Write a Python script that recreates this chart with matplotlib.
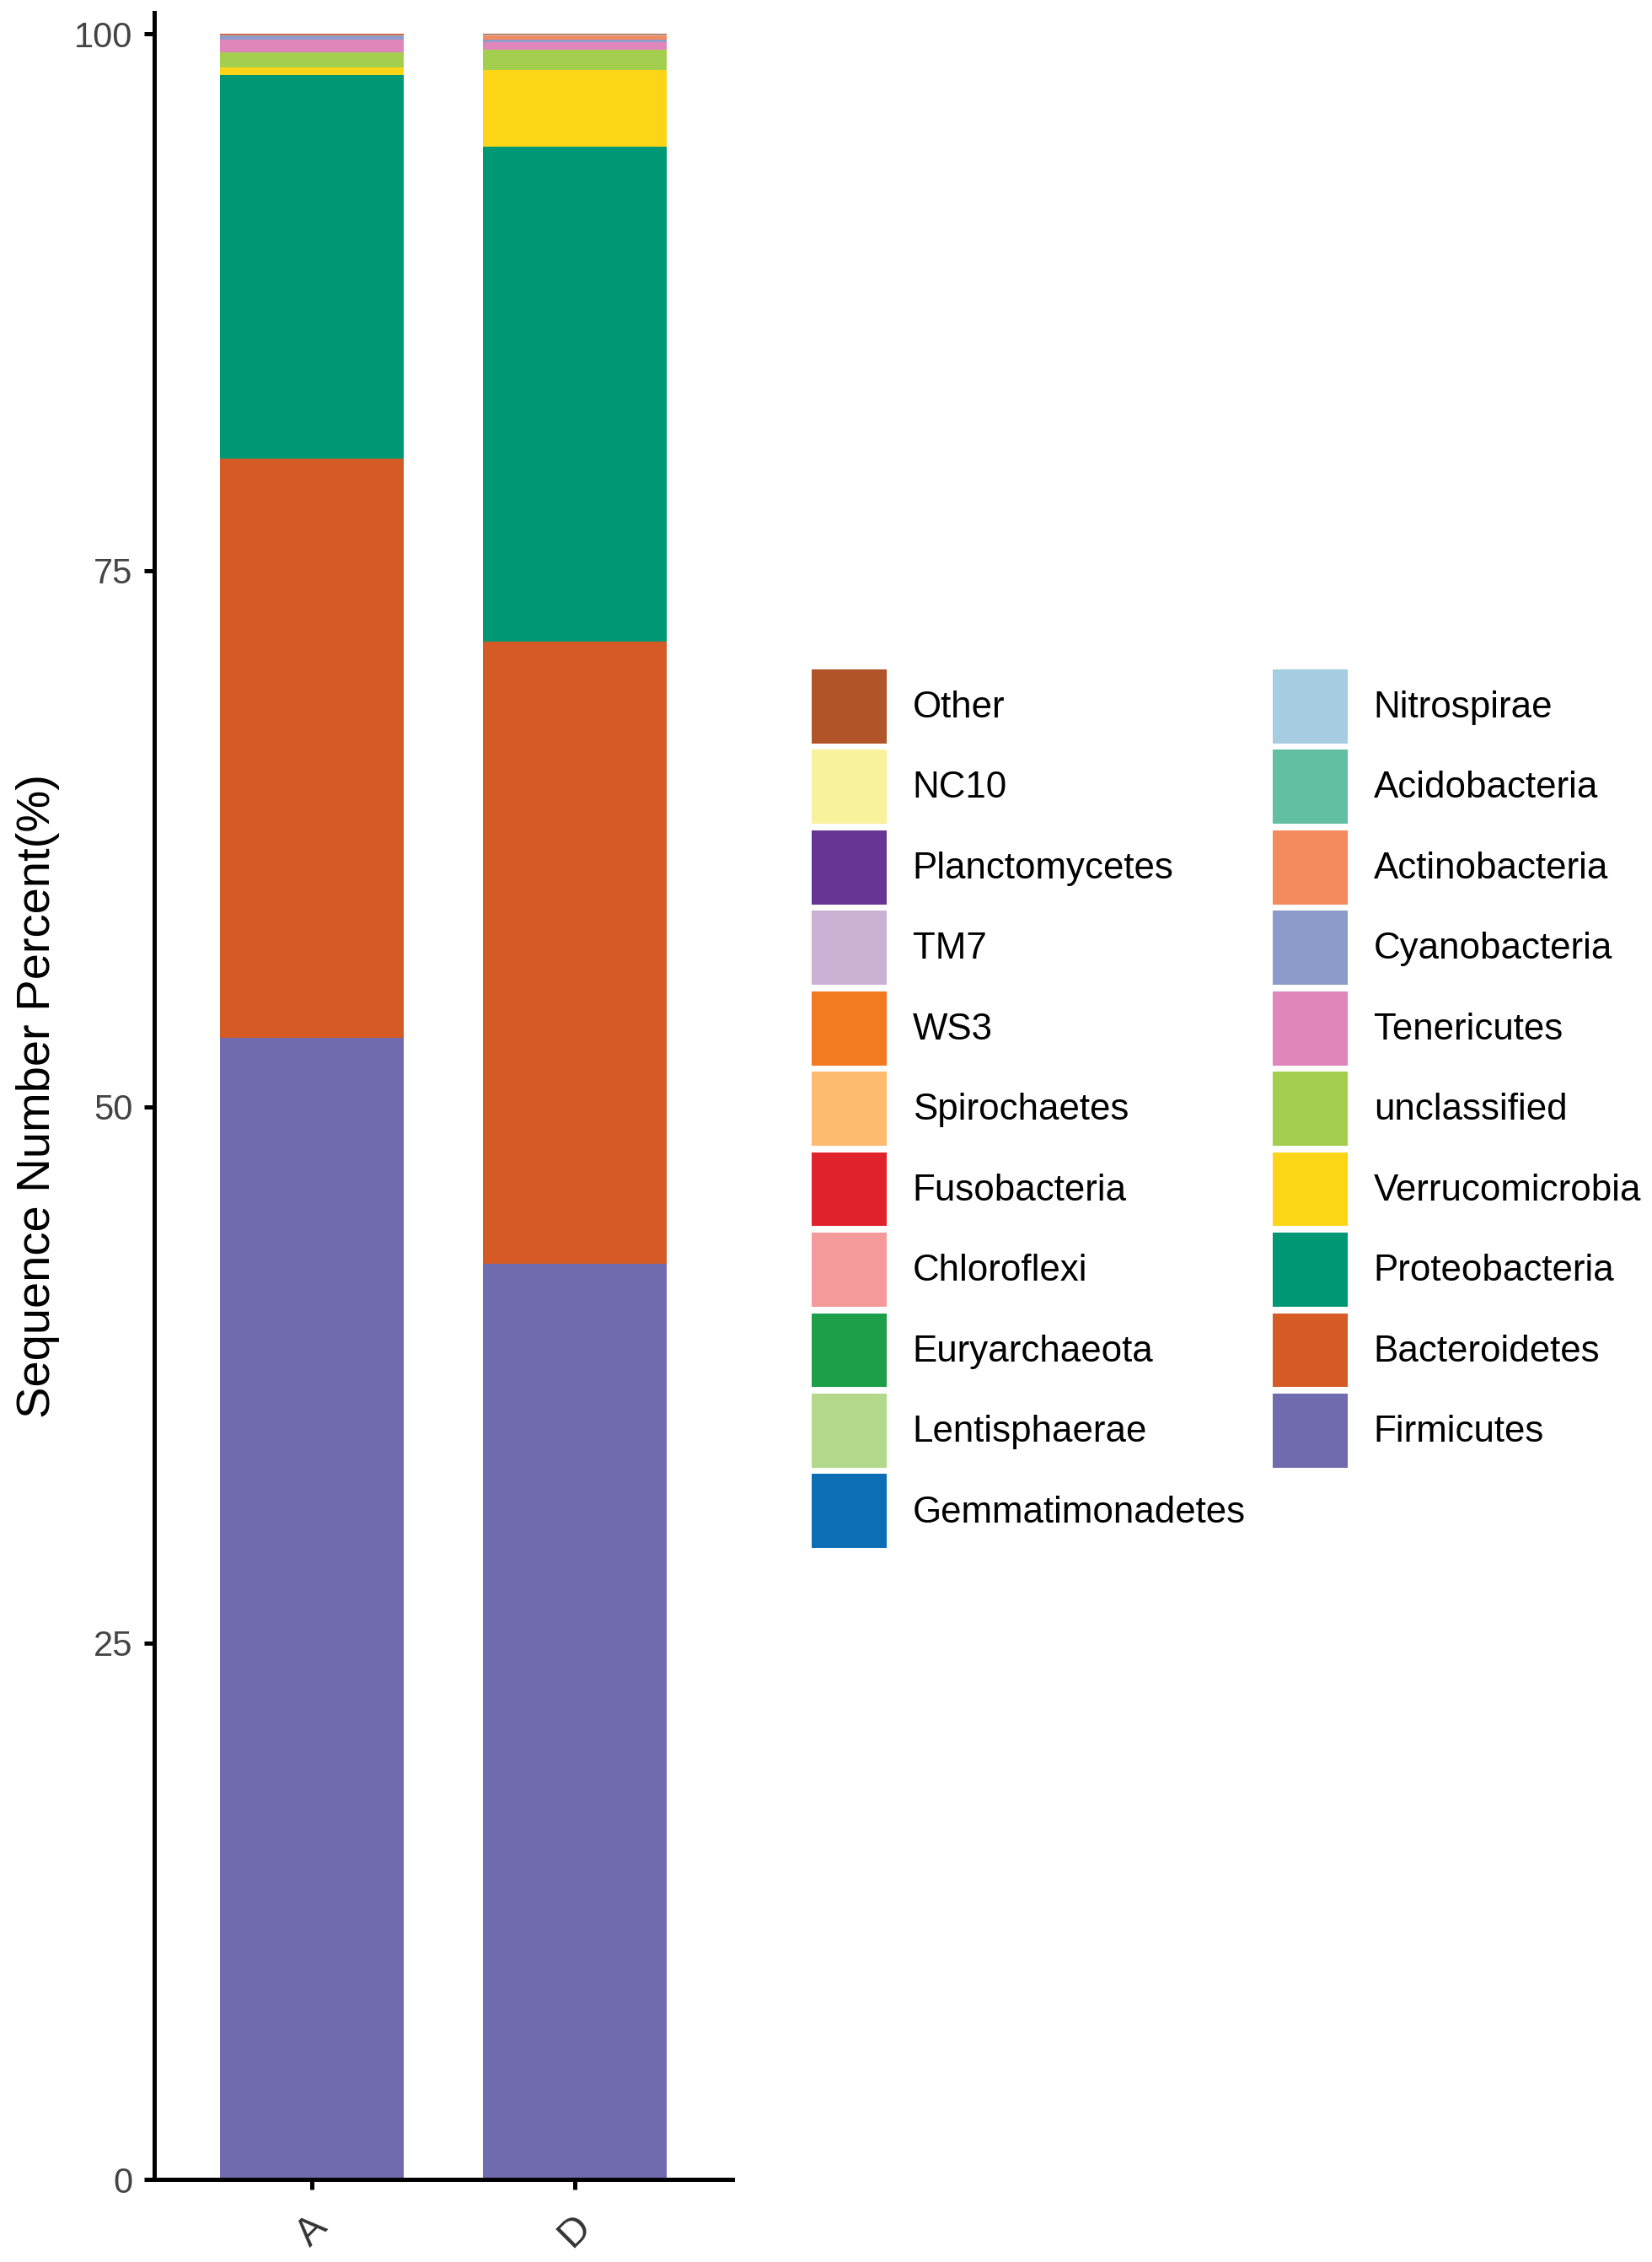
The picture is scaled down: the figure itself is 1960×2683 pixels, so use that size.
import numpy as np
import matplotlib

matplotlib.use("Agg")
import matplotlib.pyplot as plt
from matplotlib.patches import Patch

plt.rcParams["font.family"] = ["Liberation Sans", "DejaVu Sans"]

samples = ["A", "D"]

# stacking order, bottom -> top
phyla = [
    "Firmicutes", "Bacteroidetes", "Proteobacteria", "Verrucomicrobia",
    "unclassified", "Tenericutes", "Cyanobacteria", "Actinobacteria",
    "Acidobacteria", "Nitrospirae", "Gemmatimonadetes", "Lentisphaerae",
    "Euryarchaeota", "Chloroflexi", "Fusobacteria", "Spirochaetes",
    "WS3", "TM7", "Planctomycetes", "NC10", "Other",
]

pct_A = [53.2, 27.0, 17.9, 0.33, 0.74, 0.56, 0.20, 0.03, 0.01, 0.0, 0.0,
         0.01, 0.01, 0.0, 0.0, 0.0, 0.0, 0.0, 0.0, 0.0, 0.01]
pct_D = [42.7, 29.0, 23.05, 3.57, 0.96, 0.35, 0.13, 0.17, 0.02, 0.01, 0.01,
         0.01, 0.01, 0.0, 0.0, 0.0, 0.0, 0.0, 0.0, 0.0, 0.01]

colors = {
    "Firmicutes": "#706BAE",
    "Bacteroidetes": "#D55A26",
    "Proteobacteria": "#009874",
    "Verrucomicrobia": "#FCD616",
    "unclassified": "#A4CF4E",
    "Tenericutes": "#E086BB",
    "Cyanobacteria": "#8C9BCA",
    "Actinobacteria": "#F58A5E",
    "Acidobacteria": "#63BFA3",
    "Nitrospirae": "#A7CDE2",
    "Gemmatimonadetes": "#0C6FB5",
    "Lentisphaerae": "#B3D98C",
    "Euryarchaeota": "#1D9E48",
    "Chloroflexi": "#F49A9A",
    "Fusobacteria": "#E0232A",
    "Spirochaetes": "#FCBB6D",
    "WS3": "#F37A22",
    "TM7": "#C9B1D4",
    "Planctomycetes": "#663594",
    "NC10": "#F8F29C",
    "Other": "#B15428",
}

fig = plt.figure(figsize=(9.8, 13.415), dpi=200)
ax = fig.add_axes([0.0934, 0.0365, 0.35, 0.9579])

x = np.arange(1, len(samples) + 1)
bottom = np.zeros(len(samples))
for name, a, d in zip(phyla, pct_A, pct_D):
    vals = np.array([a, d])
    ax.bar(x, vals, width=0.7, bottom=bottom, color=colors[name], linewidth=0)
    bottom += vals

ax.set_xlim(0.4, 2.6)
ax.set_ylim(0, 101)
ax.set_xticks(x)
ax.set_xticklabels(samples, rotation=45, ha="center", va="top")
ax.set_yticks([0, 25, 50, 75, 100])
ax.set_ylabel("Sequence Number Percent(%)", fontsize=20.2, labelpad=6)

for side in ("top", "right"):
    ax.spines[side].set_visible(False)
for side in ("left", "bottom"):
    ax.spines[side].set_linewidth(1.8)
ax.tick_params(axis="both", length=4.3, width=1.8, labelsize=15,
               labelcolor="#444444", pad=5)
ax.tick_params(axis="x", labelsize=17, pad=8, labelcolor="#333333")

legend_order = phyla[::-1]
handles = [Patch(facecolor=colors[n], edgecolor="none", label=n) for n in legend_order]
fig.legend(
    handles=handles,
    loc="upper left",
    bbox_to_anchor=(0.4913, 0.7041),
    ncol=2,
    frameon=False,
    fontsize=15.8,
    handlelength=2.03,
    handleheight=2.7,
    labelspacing=0.175,
    handletextpad=0.7,
    columnspacing=0.73,
    borderpad=0,
    borderaxespad=0,
)

fig.savefig("out.png", dpi=200, facecolor="white")
